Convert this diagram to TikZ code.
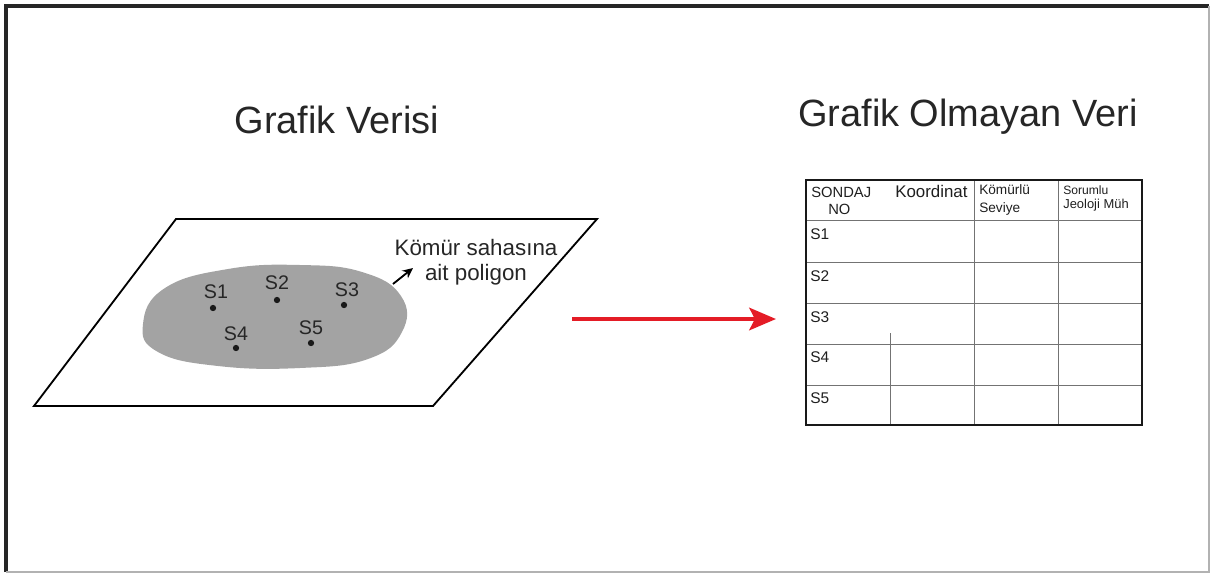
\documentclass[tikz,border=0pt]{standalone}
\usepackage{fontspec}
\setmainfont{Liberation Sans}
\usetikzlibrary{arrows.meta}
\definecolor{arrowred}{RGB}{228,28,38}
\definecolor{polygray}{RGB}{163,163,163}

\begin{document}
\begin{tikzpicture}[x=0.025cm, y=-0.025cm,
  title/.style={font=\fontsize{27}{32}\selectfont, text=black!85},
  lbl/.style={font=\fontsize{14}{16}\selectfont, text=black!85, inner sep=0pt},
  dot/.style={circle, fill=black!90, inner sep=0pt, minimum size=4.5pt},
  cell/.style={anchor=west, inner sep=0pt, text=black!88, font=\fontsize{#1}{#1}\selectfont},
  cell/.default=9.7,
  grid/.style={black!55, line width=0.6pt},
  >={Stealth[length=2.2mm]}]
\useasboundingbox (0,0) rectangle (1212,574);
% frame
\draw[black!85, line width=2.2pt] (6,572) -- (6,6) -- (1209,6);
\draw[black!30, line width=1pt] (1209,6) -- (1209,572) -- (6,572);

\node[title] (gv) at (337,120) {Grafik Verisi};
\node[title] (gov) at (968,117) {Grafik Olmayan Veri};

% map sheet with the coal field
\draw[line width=1.3pt] (34,406) -- (176,219) -- (597,219) -- (433,406) -- cycle;
\fill[polygray] plot[smooth cycle, tension=0.75] coordinates {(143,324) (165,288) (228,269) (300,265) (362,272) (401,296) (402,332) (368,359) (300,368) (218,366) (158,352)};
\foreach \n/\dx/\dy/\lx/\ly in {1/213/308/216/292, 2/277/300/277/283, 3/344/305/347/290, 4/236/348/236/334, 5/311/343/311/328} {
  \node[dot] (d\n) at (\dx,\dy) {};
  \node[lbl] (s\n) at (\lx,\ly) {S\n};
}
\node[align=center, font=\fontsize{15.9}{18}\selectfont, text=black!85, inner sep=0pt] (note) at (476,262) {Kömür sahasına\\ait poligon};
\coordinate (p1) at (393,284);
\coordinate (p2) at (413,268);
\draw[->, line width=1.3pt, >={Stealth[length=2.6mm, width=2.4mm]}] (p1) -- (p2);

% data transfer
\coordinate (rtail) at (572,319);
\coordinate (rtip) at (776,319);
\draw[arrowred, line width=2.8pt, -{Stealth[length=19pt, width=16pt, inset=4pt]}] (rtail) -- (rtip);

% attribute table
\foreach \y in {220,262,303,344,385} \draw[grid] (806,\y) -- (1142,\y);
\foreach \x in {974,1058} \draw[grid] (\x,180) -- (\x,425);
\draw[grid] (890,333) -- (890,425);
\draw[black!90, line width=2pt] (806,180) rectangle (1142,425);

\node[cell=10.5] (h1) at (811,192) {SONDAJ};
\node[cell=10.5] (h1b) at (828,209) {NO};
\node[cell=12] (h2) at (895,191) {Koordinat};
\node[cell=9.7] (h3) at (979,190) {Kömürlü};
\node[cell=9.7] (h3b) at (979,209) {Seviye};
\node[cell=8.6] (h4) at (1063,190) {Sorumlu};
\node[cell=9.2] (h4b) at (1063,205) {Jeoloji Müh};
\foreach \n/\y in {1/234, 2/276, 3/317, 4/357, 5/398}
  \node[cell=11] (r\n) at (810,\y) {S\n};
\end{tikzpicture}
\end{document}
